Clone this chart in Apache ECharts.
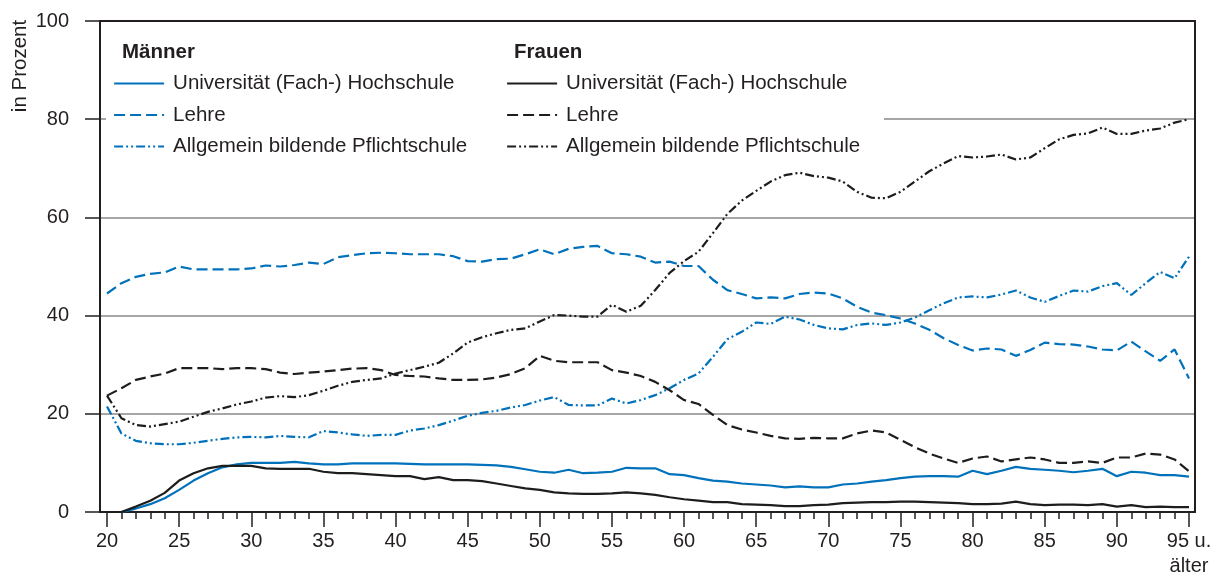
<!DOCTYPE html>
<html>
<head>
<meta charset="utf-8">
<script src="https://cdn.jsdelivr.net/npm/echarts@6/dist/echarts.min.js"></script>
<style>
  html, body { margin: 0; padding: 0; background: #fff; }
  #chart { width: 1213px; height: 583px; }
</style>
</head>
<body>
<div id="chart"></div>
<script>
// Alter in Jahren (95 = 95 u. älter)
const ages = [20, 21, 22, 23, 24, 25, 26, 27, 28, 29, 30, 31, 32, 33, 34, 35, 36, 37, 38, 39,
  40, 41, 42, 43, 44, 45, 46, 47, 48, 49, 50, 51, 52, 53, 54, 55, 56, 57, 58, 59,
  60, 61, 62, 63, 64, 65, 66, 67, 68, 69, 70, 71, 72, 73, 74, 75, 76, 77, 78, 79,
  80, 81, 82, 83, 84, 85, 86, 87, 88, 89, 90, 91, 92, 93, 94, 95];

// Männer
const menUni = [0, 0, 0.7, 1.6, 2.8, 4.5, 6.4, 7.9, 9.1, 9.7, 10.0, 10.0, 10.0, 10.2, 9.9, 9.7, 9.7, 9.9, 9.9, 9.9,
  9.9, 9.8, 9.7, 9.7, 9.7, 9.7, 9.6, 9.5, 9.2, 8.7, 8.2, 8.0, 8.6, 7.9, 8.0, 8.2, 9.0, 8.9, 8.9, 7.7,
  7.5, 6.9, 6.4, 6.2, 5.8, 5.6, 5.4, 5.0, 5.2, 5.0, 5.0, 5.6, 5.8, 6.2, 6.5, 6.9, 7.2, 7.3, 7.3, 7.2,
  8.4, 7.7, 8.4, 9.2, 8.8, 8.6, 8.4, 8.1, 8.4, 8.8, 7.3, 8.2, 8.0, 7.5, 7.5, 7.2];
const menLehre = [44.5, 46.6, 47.9, 48.5, 48.8, 50.0, 49.4, 49.4, 49.4, 49.4, 49.6, 50.2, 50.0, 50.3, 50.8, 50.5, 51.9, 52.3, 52.7, 52.8,
  52.7, 52.5, 52.5, 52.5, 52.1, 51.1, 51.0, 51.5, 51.6, 52.5, 53.5, 52.5, 53.6, 54.0, 54.2, 52.7, 52.5, 52.0, 50.8, 51.0,
  50.1, 50.1, 47.3, 45.2, 44.4, 43.5, 43.7, 43.5, 44.4, 44.7, 44.5, 43.5, 41.8, 40.6, 40.1, 39.4, 38.4, 37.1, 35.4, 34.0,
  32.9, 33.3, 33.1, 31.8, 33.0, 34.5, 34.2, 34.1, 33.7, 33.1, 32.9, 34.7, 32.7, 30.8, 33.1, 27.2];
const menPflicht = [21.5, 16.0, 14.5, 14.0, 13.8, 13.8, 14.1, 14.5, 14.9, 15.2, 15.3, 15.2, 15.5, 15.3, 15.2, 16.5, 16.2, 15.8, 15.5, 15.7,
  15.7, 16.6, 17.0, 17.7, 18.6, 19.6, 20.2, 20.6, 21.3, 21.8, 22.7, 23.4, 21.8, 21.7, 21.7, 23.1, 22.1, 22.8, 23.8, 25.2,
  26.9, 28.2, 31.6, 35.2, 36.7, 38.6, 38.3, 39.8, 39.2, 38.1, 37.4, 37.2, 38.1, 38.4, 38.1, 38.6, 39.6, 41.1, 42.5, 43.7,
  43.9, 43.7, 44.3, 45.1, 43.7, 42.8, 44.0, 45.1, 44.9, 46.0, 46.6, 44.2, 46.6, 48.9, 47.6, 52.0];

// Frauen
const womenUni = [0, 0, 1.1, 2.3, 3.9, 6.4, 7.9, 8.9, 9.4, 9.4, 9.4, 8.9, 8.8, 8.8, 8.8, 8.2, 7.9, 7.9, 7.7, 7.5,
  7.3, 7.3, 6.7, 7.1, 6.5, 6.5, 6.3, 5.8, 5.3, 4.8, 4.5, 4.0, 3.8, 3.7, 3.7, 3.8, 4.0, 3.8, 3.5, 3.0,
  2.6, 2.3, 2.0, 2.0, 1.6, 1.5, 1.4, 1.2, 1.2, 1.4, 1.5, 1.8, 1.9, 2.0, 2.0, 2.1, 2.1, 2.0, 1.9, 1.8,
  1.6, 1.6, 1.7, 2.1, 1.6, 1.4, 1.5, 1.5, 1.4, 1.6, 1.1, 1.4, 1.0, 1.1, 1.0, 1.0];
const womenLehre = [23.7, 25.2, 26.9, 27.6, 28.2, 29.3, 29.3, 29.3, 29.1, 29.3, 29.3, 29.1, 28.4, 28.1, 28.4, 28.6, 28.9, 29.2, 29.3, 28.9,
  27.9, 27.7, 27.6, 27.2, 26.9, 26.9, 27.0, 27.4, 28.1, 29.3, 31.8, 30.8, 30.5, 30.5, 30.5, 28.9, 28.4, 27.7, 26.5, 24.8,
  22.8, 22.0, 19.8, 17.7, 16.8, 16.2, 15.5, 15.0, 14.9, 15.1, 15.0, 15.0, 16.0, 16.6, 16.2, 14.7, 13.2, 11.9, 10.9, 10.0,
  10.9, 11.3, 10.3, 10.7, 11.1, 10.7, 10.0, 10.0, 10.3, 10.0, 11.1, 11.1, 11.9, 11.7, 10.7, 8.3];
const womenPflicht = [23.7, 19.1, 17.7, 17.4, 17.9, 18.4, 19.4, 20.4, 21.1, 21.9, 22.5, 23.3, 23.6, 23.4, 23.8, 24.7, 25.7, 26.5, 26.9, 27.2,
  28.2, 28.9, 29.6, 30.4, 32.3, 34.5, 35.6, 36.4, 37.1, 37.4, 38.8, 40.1, 40.0, 39.8, 39.8, 42.2, 40.8, 42.0, 45.2, 48.7,
  51.1, 53.0, 56.8, 60.7, 63.4, 65.4, 67.3, 68.6, 69.1, 68.4, 68.1, 67.3, 65.2, 64.0, 63.9, 65.2, 67.3, 69.4, 71.0, 72.5,
  72.2, 72.4, 72.8, 71.8, 72.2, 74.1, 75.9, 76.8, 77.1, 78.3, 77.0, 77.0, 77.7, 78.1, 79.3, 80.0];

const seriesNames = ['Universität (Fach-) Hochschule', 'Lehre', 'Allgemein bildende Pflichtschule'];

const BLUE = '#0071bb';
const BLACK = '#1d1d1b';
const TEXT = '#231f20';
const GREY = '#a6a6a6';
const FONT = '"Liberation Sans", Arial, Helvetica, sans-serif';
const dashTypes = ['solid', [11, 5], [9, 3, 2, 3, 2, 3]];

function pairs(values) {
  return ages.map((a, i) => [a, values[i]]);
}

function makeSeries(group, values, color) {
  return values.map((v, i) => ({
    name: group + '|' + seriesNames[i],
    type: 'line',
    xAxisIndex: 2,
    yAxisIndex: 2,
    data: pairs(v),
    symbol: 'none',
    lineStyle: { color: color, width: 2.2, type: dashTypes[i] },
    itemStyle: { color: color },
  }));
}

const series = [
  ...makeSeries('M', [menUni, menLehre, menPflicht], BLUE),
  ...makeSeries('F', [womenUni, womenLehre, womenPflicht], BLACK),
];

function frameAxis(extra) {
  return Object.assign({
    gridIndex: 0,
    type: 'value',
    min: 0,
    max: 1,
    z: 3,
    axisLine: { show: true, onZero: false, lineStyle: { color: TEXT, width: 2 } },
    axisTick: { show: false },
    axisLabel: { show: false },
    splitLine: { show: false },
  }, extra);
}

function legendFor(group, left) {
  return {
    left: left,
    top: 73,
    orient: 'vertical',
    padding: 0,
    itemWidth: 50,
    itemHeight: 14,
    itemGap: 10.5,
    selectedMode: false,
    z: 4,
    itemStyle: { opacity: 0 },
    lineStyle: { width: 2.2 },
    data: seriesNames.map(n => group + '|' + n),
    formatter: name => name.split('|')[1],
    textStyle: { fontFamily: FONT, fontSize: 20.5, lineHeight: 20, color: TEXT, padding: [0, 0, 0, 4] },
  };
}

const chart = echarts.init(document.getElementById('chart'));
chart.setOption({
  animation: false,
  textStyle: { fontFamily: FONT },
  grid: [
    { left: 100, right: 18, top: 21, bottom: 71, outerBoundsMode: 'none' },
    { left: 107, right: 24, top: 21, bottom: 71, outerBoundsMode: 'none' },
  ],
  xAxis: [
    frameAxis({ position: 'top' }),
    frameAxis({ position: 'bottom' }),
    {
      gridIndex: 1,
      type: 'value',
      min: 20,
      max: 95,
      interval: 5,
      name: 'Alter in Jahren',
      nameLocation: 'middle',
      nameGap: 53,
      nameTextStyle: { fontFamily: FONT, fontSize: 20.5, fontWeight: 'bold', color: TEXT },
      axisLine: { show: false },
      axisTick: { show: true, length: 15, lineStyle: { color: TEXT, width: 1.5 } },
      minorTick: { show: true, splitNumber: 5, length: 7, lineStyle: { color: TEXT, width: 1.5 } },
      splitLine: { show: false },
      axisLabel: {
        margin: 17,
        fontSize: 20,
        lineHeight: 25,
        color: TEXT,
        formatter: v => (v === 95 ? '95 u.\nälter' : String(v)),
      },
    },
  ],
  yAxis: [
    {
      gridIndex: 0,
      type: 'value',
      min: 0,
      max: 100,
      interval: 20,
      axisLine: { show: true, lineStyle: { color: TEXT, width: 2 } },
      axisTick: { show: true, length: 15, lineStyle: { color: TEXT, width: 1.5 } },
      axisLabel: { margin: 31, fontSize: 20, color: TEXT },
      splitLine: { show: true, lineStyle: { color: GREY, width: 2 } },
    },
    frameAxis({ type: 'value', min: 0, max: 100, position: 'right' }),
    { gridIndex: 1, type: 'value', min: 0, max: 100, show: false },
  ],
  legend: [legendFor('M', 113), legendFor('F', 506)],
  graphic: [
    { type: 'rect', z: 3, shape: { x: 106, y: 30, width: 778, height: 130 }, style: { fill: '#fff' } },
    { type: 'text', z: 5, left: 122, top: 42, style: { text: 'Männer', fontFamily: FONT, fontSize: 20.5, fontWeight: 'bold', fill: TEXT } },
    { type: 'text', z: 5, left: 514, top: 42, style: { text: 'Frauen', fontFamily: FONT, fontSize: 20.5, fontWeight: 'bold', fill: TEXT } },
    {
      type: 'text', z: 5, x: 20, y: 66, rotation: Math.PI / 2,
      style: { text: 'in Prozent', fontFamily: FONT, fontSize: 20.5, fill: TEXT, align: 'center', verticalAlign: 'middle' },
    },
  ],
  series: series,
});
</script>
</body>
</html>
